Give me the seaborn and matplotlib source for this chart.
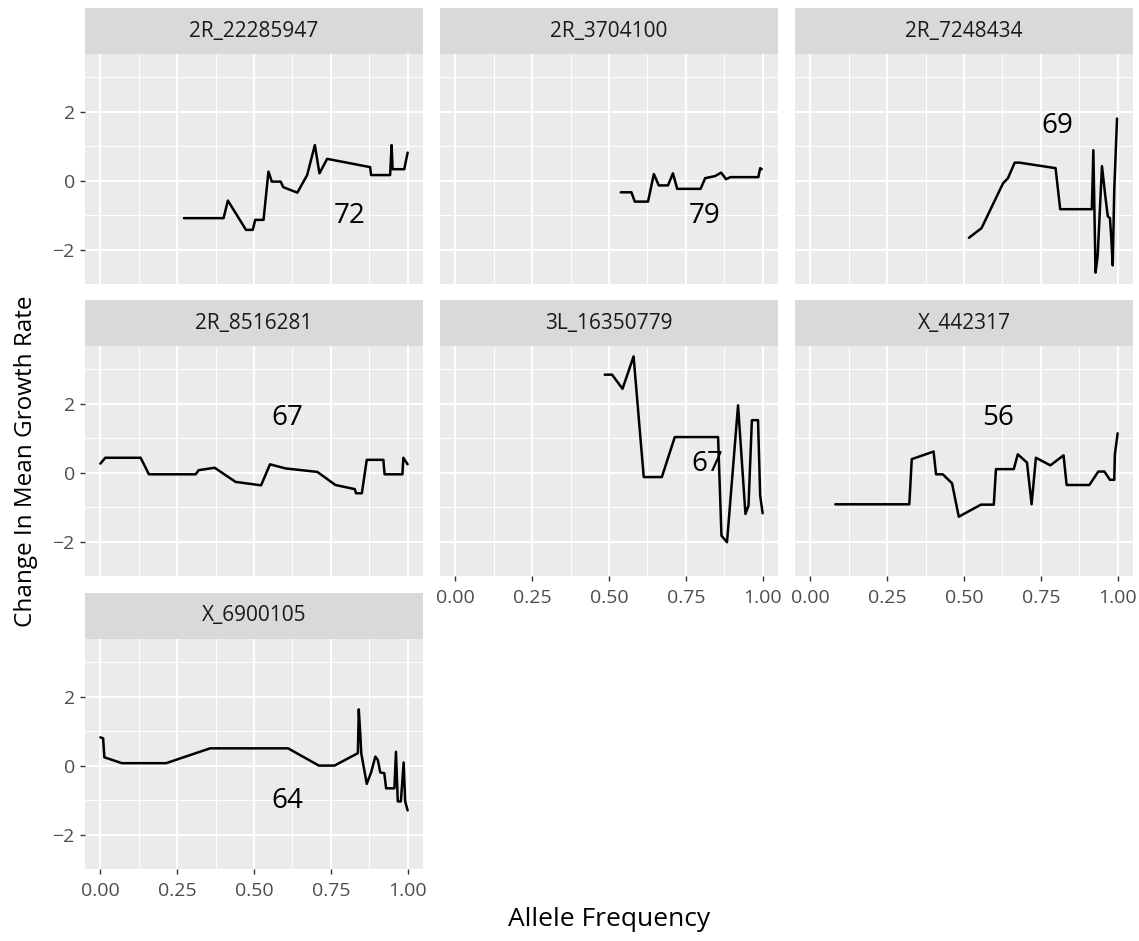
import numpy as np
import pandas as pd
import matplotlib
matplotlib.use("Agg")
import matplotlib.pyplot as plt
import seaborn as sns

sns.set_theme(style="darkgrid")
plt.rcParams['font.family'] = ['Open Sans', 'DejaVu Sans']

# ---- data: allele frequency vs change in mean growth rate, per SNP ----
snps = ["2R_22285947", "2R_3704100", "2R_7248434", "2R_8516281",
        "3L_16350779", "X_442317", "X_6900105"]

freq_2R_22285947 = [0.272, 0.401, 0.415, 0.474, 0.496, 0.504, 0.531, 0.547, 0.558, 0.587,
                    0.595, 0.641, 0.673, 0.698, 0.713, 0.738, 0.878, 0.881, 0.943, 0.948,
                    0.951, 0.989, 1.000]
rate_2R_22285947 = [-1.09, -1.09, -0.58, -1.43, -1.43, -1.14, -1.14, 0.26, -0.03, -0.03,
                    -0.19, -0.35, 0.16, 1.03, 0.21, 0.63, 0.39, 0.16, 0.16, 1.03,
                    0.33, 0.33, 0.81]

freq_2R_3704100 = [0.538, 0.573, 0.584, 0.627, 0.646, 0.662, 0.692, 0.708, 0.722, 0.798,
                   0.813, 0.845, 0.865, 0.881, 0.895, 0.986, 0.992, 0.997]
rate_2R_3704100 = [-0.34, -0.34, -0.61, -0.61, 0.19, -0.14, -0.14, 0.21, -0.24, -0.24,
                   0.07, 0.13, 0.23, 0.04, 0.10, 0.10, 0.36, 0.33]

freq_2R_7248434 = [0.516, 0.557, 0.627, 0.643, 0.665, 0.681, 0.798, 0.813, 0.916, 0.921,
                   0.928, 0.935, 0.949, 0.960, 0.968, 0.975, 0.979, 0.984, 0.989, 0.998]
rate_2R_7248434 = [-1.66, -1.38, -0.08, 0.07, 0.52, 0.52, 0.36, -0.83, -0.83, 0.88,
                   -2.67, -2.19, 0.42, -0.46, -1.04, -1.09, -1.62, -2.46, -0.27, 1.80]

freq_2R_8516281 = [0.000, 0.016, 0.131, 0.158, 0.310, 0.320, 0.372, 0.440, 0.523, 0.552,
                   0.603, 0.706, 0.765, 0.828, 0.832, 0.851, 0.867, 0.921, 0.925, 0.983,
                   0.986, 1.000]
rate_2R_8516281 = [0.26, 0.43, 0.43, -0.05, -0.05, 0.07, 0.14, -0.27, -0.37, 0.24,
                   0.12, 0.02, -0.36, -0.48, -0.60, -0.60, 0.37, 0.37, -0.05, -0.05,
                   0.43, 0.24]

freq_3L_16350779 = [0.486, 0.510, 0.544, 0.580, 0.613, 0.672, 0.714, 0.855, 0.866, 0.884,
                    0.920, 0.944, 0.954, 0.965, 0.985, 0.992, 1.000]
rate_3L_16350779 = [2.84, 2.84, 2.43, 3.37, -0.13, -0.13, 1.03, 1.03, -1.83, -2.02,
                    1.95, -1.20, -0.96, 1.52, 1.52, -0.67, -1.18]

freq_X_442317 = [0.081, 0.322, 0.330, 0.401, 0.409, 0.431, 0.461, 0.483, 0.555, 0.597,
                 0.604, 0.662, 0.675, 0.705, 0.720, 0.734, 0.781, 0.824, 0.834, 0.908,
                 0.937, 0.957, 0.975, 0.989, 0.991, 1.000]
rate_X_442317 = [-0.92, -0.92, 0.39, 0.61, -0.05, -0.05, -0.31, -1.28, -0.93, -0.93,
                 0.10, 0.10, 0.53, 0.29, -0.92, 0.43, 0.21, 0.50, -0.36, -0.36,
                 0.03, 0.03, -0.21, -0.21, 0.53, 1.14]

freq_X_6900105 = [0.000, 0.009, 0.013, 0.070, 0.214, 0.357, 0.611, 0.711, 0.762, 0.838,
                  0.841, 0.846, 0.849, 0.867, 0.881, 0.895, 0.903, 0.911, 0.924, 0.930,
                  0.957, 0.962, 0.968, 0.978, 0.987, 0.992, 1.000]
rate_X_6900105 = [0.82, 0.79, 0.24, 0.07, 0.07, 0.50, 0.50, 0.00, 0.00, 0.36,
                  1.63, 0.89, 0.36, -0.53, -0.20, 0.26, 0.16, -0.20, -0.22, -0.66,
                  -0.66, 0.40, -1.04, -1.04, 0.09, -1.04, -1.30]

# per-panel count labels and their positions (data coordinates)
counts = ["72", "79", "69", "67", "67", "56", "64"]
count_x = [0.81, 0.81, 0.805, 0.61, 0.82, 0.61, 0.61]
count_y = [-1.04, -1.04, 1.59, 1.59, 0.26, 1.59, -1.04]

x_ticks = [0.0, 0.25, 0.5, 0.75, 1.0]
x_tick_labels = ["0.00", "0.25", "0.50", "0.75", "1.00"]
y_ticks = [-2, 0, 2]
y_tick_labels = ["\u22122", "0", "2"]

freqs = [freq_2R_22285947, freq_2R_3704100, freq_2R_7248434, freq_2R_8516281,
         freq_3L_16350779, freq_X_442317, freq_X_6900105]
rates = [rate_2R_22285947, rate_2R_3704100, rate_2R_7248434, rate_2R_8516281,
         rate_3L_16350779, rate_X_442317, rate_X_6900105]

df = pd.concat([pd.DataFrame({"snp": s, "freq": f, "rate": r, "order": np.arange(len(f))})
                for s, f, r in zip(snps, freqs, rates)], ignore_index=True)

# ---- layout (pixel geometry of the facet grid) ----
W, H = 1139, 941
fig = plt.figure(figsize=(W / 100, H / 100), dpi=100)
fig.patch.set_facecolor("white")

col_left = [85, 440, 795]
panel_w = 338
row_top = [54, 346, 639]
panel_h = 230
strip_h = 46

xmin, xmax = df["freq"].min(), df["freq"].max()
ymin, ymax = df["rate"].min(), df["rate"].max()
xpad = (xmax - xmin) * 0.05
ypad = (ymax - ymin) * 0.05

def frac_rect(left, top, w, h):
    return [left / W, 1 - (top + h) / H, w / W, h / H]

for i, snp in enumerate(snps):
    r, c = divmod(i, 3)
    left, top = col_left[c], row_top[r]

    # facet strip
    sax = fig.add_axes(frac_rect(left, top - strip_h, panel_w, strip_h))
    sax.set_facecolor("#D9D9D9")
    sax.set_xticks([]); sax.set_yticks([])
    for sp in sax.spines.values():
        sp.set_visible(False)
    sax.text(0.5, 0.5, snp, ha="center", va="center", fontsize=15,
             color="#1A1A1A", transform=sax.transAxes)

    ax = fig.add_axes(frac_rect(left, top, panel_w, panel_h))
    sub = df[df["snp"] == snp].sort_values("order")
    sns.lineplot(data=sub, x="freq", y="rate", ax=ax, color="black",
                 linewidth=1.8, sort=False, estimator=None)
    ax.set_facecolor("#EBEBEB")
    ax.set_xlim(xmin - xpad, xmax + xpad)
    ax.set_ylim(ymin - ypad, ymax + ypad)
    ax.set_xticks(x_ticks)
    ax.set_xticks([0.125, 0.375, 0.625, 0.875], minor=True)
    ax.set_yticks(y_ticks)
    ax.set_yticks([-3, -1, 1, 3], minor=True)
    ax.grid(which="major", color="white", linewidth=1.4)
    ax.grid(which="minor", color="white", linewidth=0.7)
    ax.set_axisbelow(True)
    for sp in ax.spines.values():
        sp.set_visible(False)
    ax.set_xlabel("")
    ax.set_ylabel("")

    show_y = (c == 0)
    show_x = i >= 4
    if show_y:
        ax.set_yticklabels(y_tick_labels)
        ax.tick_params(axis="y", which="major", length=3.8, width=1.0, color="#333333",
                       labelsize=14, labelcolor="#4D4D4D", pad=3.5, left=True)
    else:
        ax.tick_params(axis="y", which="major", length=0, labelleft=False)
    if show_x:
        ax.set_xticklabels(x_tick_labels)
        ax.tick_params(axis="x", which="major", length=3.8, width=1.0, color="#333333",
                       labelsize=14, labelcolor="#4D4D4D", pad=5.5, bottom=True)
    else:
        ax.tick_params(axis="x", which="major", length=0, labelbottom=False)
    ax.tick_params(which="minor", length=0)

    ax.text(count_x[i], count_y[i], counts[i], ha="center", va="center",
            fontsize=20, color="black")

fig.text(609 / W, 1 - 920 / H, "Allele Frequency", ha="center", va="center",
         fontsize=19, color="black")
fig.text(26 / W, 1 - 461 / H, "Change In Mean Growth Rate", ha="center", va="center",
         rotation=90, fontsize=17.5, color="black")

fig.savefig("out.png", dpi=100)
